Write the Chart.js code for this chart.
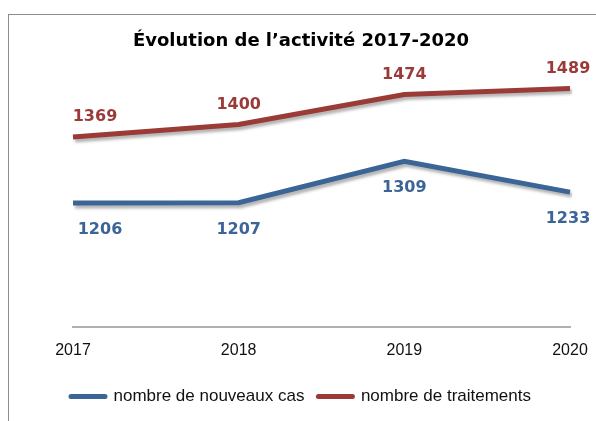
<!DOCTYPE html>
<html>
<head>
<meta charset="utf-8">
<script src="https://cdn.jsdelivr.net/npm/chart.js@4.4.0/dist/chart.umd.min.js"></script>
<style>
html, body { margin: 0; padding: 0; background: #fff; overflow: hidden; }
#wrap { position: relative; width: 596px; height: 421px; }
#frame { position: absolute; left: 8px; top: 14px; width: 620px; height: 440px; border-left: 1px solid #8c8c8c; border-top: 1px solid #8c8c8c; }
canvas { position: absolute; left: 0; top: 0; }
</style>
</head>
<body>
<div id="wrap">
  <div id="frame"></div>
  <canvas id="activityChart" width="596" height="421"></canvas>
</div>
<script>
var years = ['2017', '2018', '2019', '2020'];
var nouveauxCas = [1206, 1207, 1309, 1233];
var traitements = [1369, 1400, 1474, 1489];

// soft shadow under each line, like the office chart
var lineShadow = {
    id: 'lineShadow',
    beforeDatasetDraw: function(chart) {
        var c = chart.ctx;
        c.save();
        c.shadowColor = 'rgba(0,0,0,0.3)';
        c.shadowBlur = 3;
        c.shadowOffsetX = 2;
        c.shadowOffsetY = 3;
    },
    afterDatasetDraw: function(chart) {
        chart.ctx.restore();
    }
};

// value labels above / below the points
var valueLabels = {
    id: 'valueLabels',
    afterDatasetsDraw: function(chart) {
        var ctx = chart.ctx;
        ctx.save();
        ctx.font = 'bold 16px "DejaVu Sans"';
        ctx.textAlign = 'center';
        ctx.textBaseline = 'middle';
        chart.data.datasets.forEach(function(ds, i) {
            var meta = chart.getDatasetMeta(i);
            var last = meta.data.length - 1;
            ctx.fillStyle = ds.borderColor;
            meta.data.forEach(function(pt, j) {
                var dx = j === 0 ? ds.firstShift : (j === last ? -2 : 0);
                ctx.fillText(ds.data[j], pt.x + dx, pt.y + ds.labelOffset);
            });
        });
        ctx.restore();
    }
};

var ctx = document.getElementById('activityChart').getContext('2d');
var activityChart = new Chart(ctx, {
    type: 'line',
    data: {
        labels: years,
        datasets: [{
            label: 'nombre de nouveaux cas',
            data: nouveauxCas,
            borderColor: '#3b6497',
            backgroundColor: '#3b6497',
            borderWidth: 5,
            pointRadius: 0,
            tension: 0,
            labelOffset: 27,
            firstShift: 27
        }, {
            label: 'nombre de traitements',
            data: traitements,
            borderColor: '#9a3b38',
            backgroundColor: '#9a3b38',
            borderWidth: 5,
            pointRadius: 0,
            tension: 0,
            labelOffset: -20,
            firstShift: 22
        }]
    },
    options: {
        responsive: false,
        animation: false,
        layout: {
            padding: { left: 32, right: 26, top: 0, bottom: 6 }
        },
        scales: {
            x: {
                offset: false,
                grid: { display: false, drawTicks: false },
                border: { display: true, color: '#b0b0b0', width: 2 },
                ticks: {
                    color: '#111',
                    font: { family: 'Liberation Sans', size: 16 },
                    padding: 14,
                    maxRotation: 0,
                    autoSkip: false
                },
                afterFit: function(scale) {
                    scale.height = 47;
                    scale.paddingLeft = 0;
                    scale.paddingRight = 0;
                }
            },
            y: {
                min: 900,
                max: 1570,
                ticks: { display: false },
                grid: { display: false, drawTicks: false },
                border: { display: false },
                afterFit: function(scale) { scale.width = 41; }
            }
        },
        plugins: {
            title: {
                display: true,
                text: 'Évolution de l’activité 2017-2020',
                color: '#000',
                font: { family: 'DejaVu Sans', size: 18, weight: 'bold' },
                padding: { top: 31, bottom: 3 }
            },
            legend: {
                display: true,
                position: 'bottom',
                labels: {
                    usePointStyle: true,
                    pointStyle: 'line',
                    pointStyleWidth: 34,
                    color: '#111',
                    font: { family: 'Liberation Sans', size: 17 },
                    padding: 14,
                    generateLabels: function(chart) {
                        var items = Chart.defaults.plugins.legend.labels.generateLabels(chart);
                        items.forEach(function(it) { it.lineCap = 'round'; });
                        return items;
                    }
                }
            },
            tooltip: { enabled: false }
        }
    },
    plugins: [lineShadow, valueLabels]
});
</script>
</body>
</html>
